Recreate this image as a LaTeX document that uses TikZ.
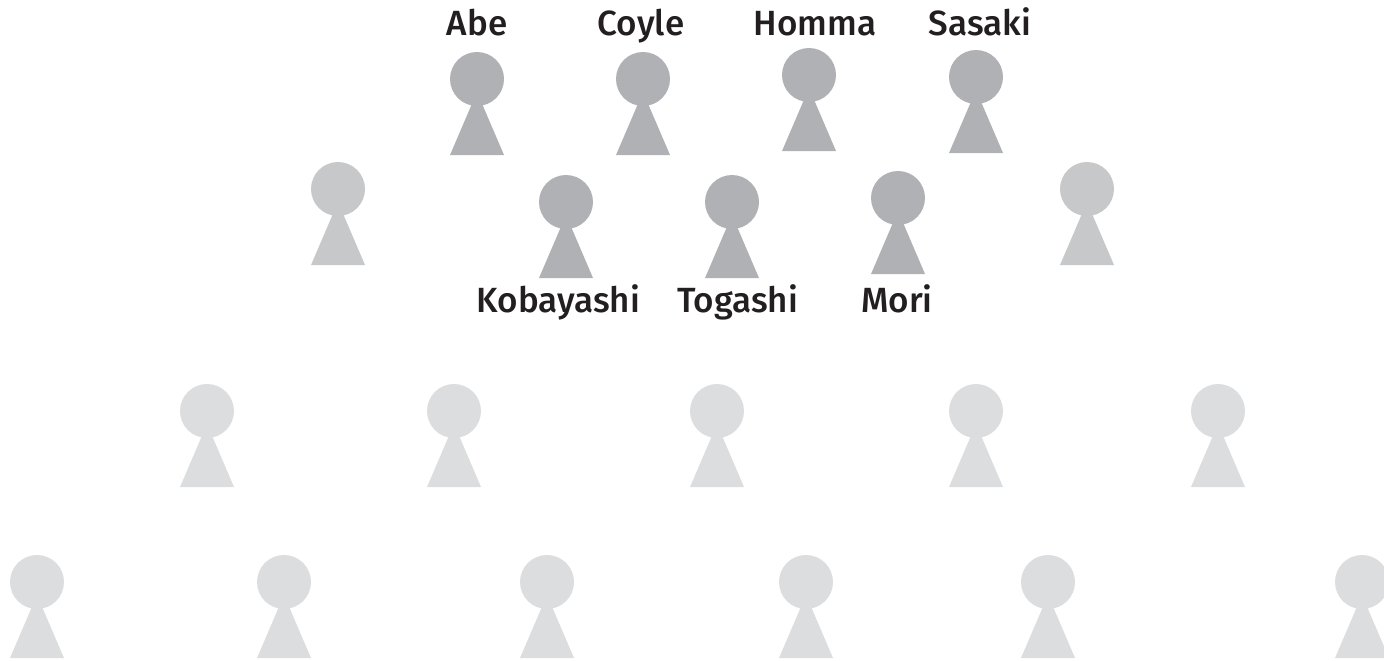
\documentclass[tikz,border=0pt]{standalone}
\usepackage{fontspec}
\setmainfont{Fira Sans Medium}
\definecolor{figdark}{HTML}{B0B1B4}
\definecolor{figmid}{HTML}{C7C8CA}
\definecolor{figlight}{HTML}{DCDDDE}
\definecolor{nametext}{HTML}{231F20}
\tikzset{
  x=1pt,y=-1pt,
  person/.pic={
    \fill (0,0) circle[radius=27];
    \fill (0,13) -- (27,76) -- (-27,76) -- cycle;
  },
  namelabel/.style={text=nametext,font=\fontsize{35}{35}\selectfont,inner sep=0pt,anchor=base}
}
\begin{document}
\begin{tikzpicture}
\useasboundingbox (0,0) rectangle (1384,661);
\foreach \cx/\cy in {477/79,643/79,809/75,976/77,566/202,732/202,898/198}
  \pic[figdark] at (\cx,\cy) {person};
\foreach \cx/\cy in {338/189,1087/189}
  \pic[figmid] at (\cx,\cy) {person};
\foreach \cx/\cy in {207/411,454/411,717/411,976/411,1218/411,37/582,284/582,547/582,806/582,1048/582,1362/582}
  \pic[figlight] at (\cx,\cy) {person};
\node[namelabel] (abe) at (477,36) {Abe};
\node[namelabel] (coyle) at (641,36) {Coyle};
\node[namelabel] (homma) at (815,36) {Homma};
\node[namelabel] (sasaki) at (980,36) {Sasaki};
\node[namelabel] (kobayashi) at (558.5,312) {Kobayashi};
\node[namelabel] (togashi) at (737.5,312) {Togashi};
\node[namelabel] (mori) at (897,312) {Mori};
\end{tikzpicture}
\end{document}
